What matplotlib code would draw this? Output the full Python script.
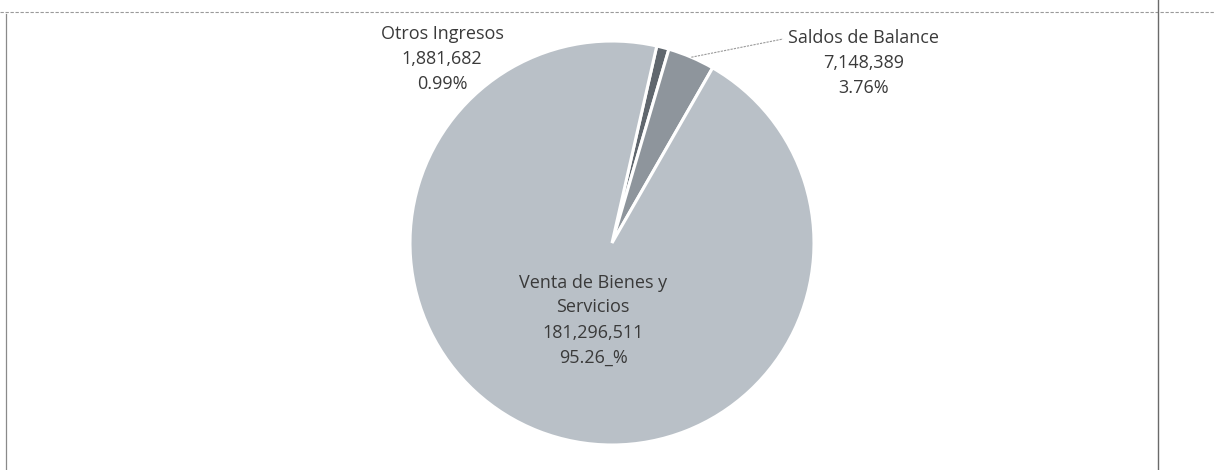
import matplotlib.pyplot as plt
import numpy as np

# Data (order clockwise from the first slice)
categories = ["Otros Ingresos", "Saldos de Balance", "Venta de Bienes y\nServicios"]
values = [1881682, 7148389, 181296511]
pct_labels = ["0.99%", "3.76%", "95.26_%"]
colors = ["#60676e", "#8e959c", "#b9c0c7"]

W, H = 1215, 470
fig = plt.figure(figsize=(W / 100, H / 100), dpi=100)
ax = fig.add_axes([0, 0, 1, 1])

cx, cy, r = 612, H - 243, 202
wedges, _ = ax.pie(values, center=(cx, cy), radius=r, colors=colors,
                   startangle=77.2, counterclock=False, frame=True,
                   wedgeprops=dict(edgecolor="white", linewidth=2.2))
ax.set_xlim(0, W)
ax.set_ylim(0, H)
ax.set_aspect("equal")
ax.axis("off")

txt = dict(ha="center", va="center", fontsize=13, color="#3a3a3a",
           family="Open Sans", linespacing=1.5)

# labels
ax.text(442, H - 59, f"{categories[0]}\n{values[0]:,}\n{pct_labels[0]}", **txt)
ax.text(864, H - 63, f"{categories[1]}\n{values[1]:,}\n{pct_labels[1]}", **txt)
ax.text(593, H - 320, f"{categories[2]}\n{values[2]:,}\n{pct_labels[2]}", **txt)

# leader line for Saldos de Balance
w = wedges[1]
mid = np.deg2rad((w.theta1 + w.theta2) / 2)
ax.plot([cx + r * np.cos(mid), 783], [cy + r * np.sin(mid), H - 39],
        color="#9a9a9a", lw=0.8, ls=(0, (2, 1)))

# scanned frame lines
ax.plot([0, W], [H - 12, H - 12], color="#9a9a9a", lw=0.8, ls=(0, (3, 1.5)))
ax.plot([6, 6], [0, H - 14], color="#8a8a8a", lw=0.9)
ax.plot([1158, 1158], [0, H], color="#6a6a6a", lw=1.0)

fig.savefig("out.png", dpi=100)
